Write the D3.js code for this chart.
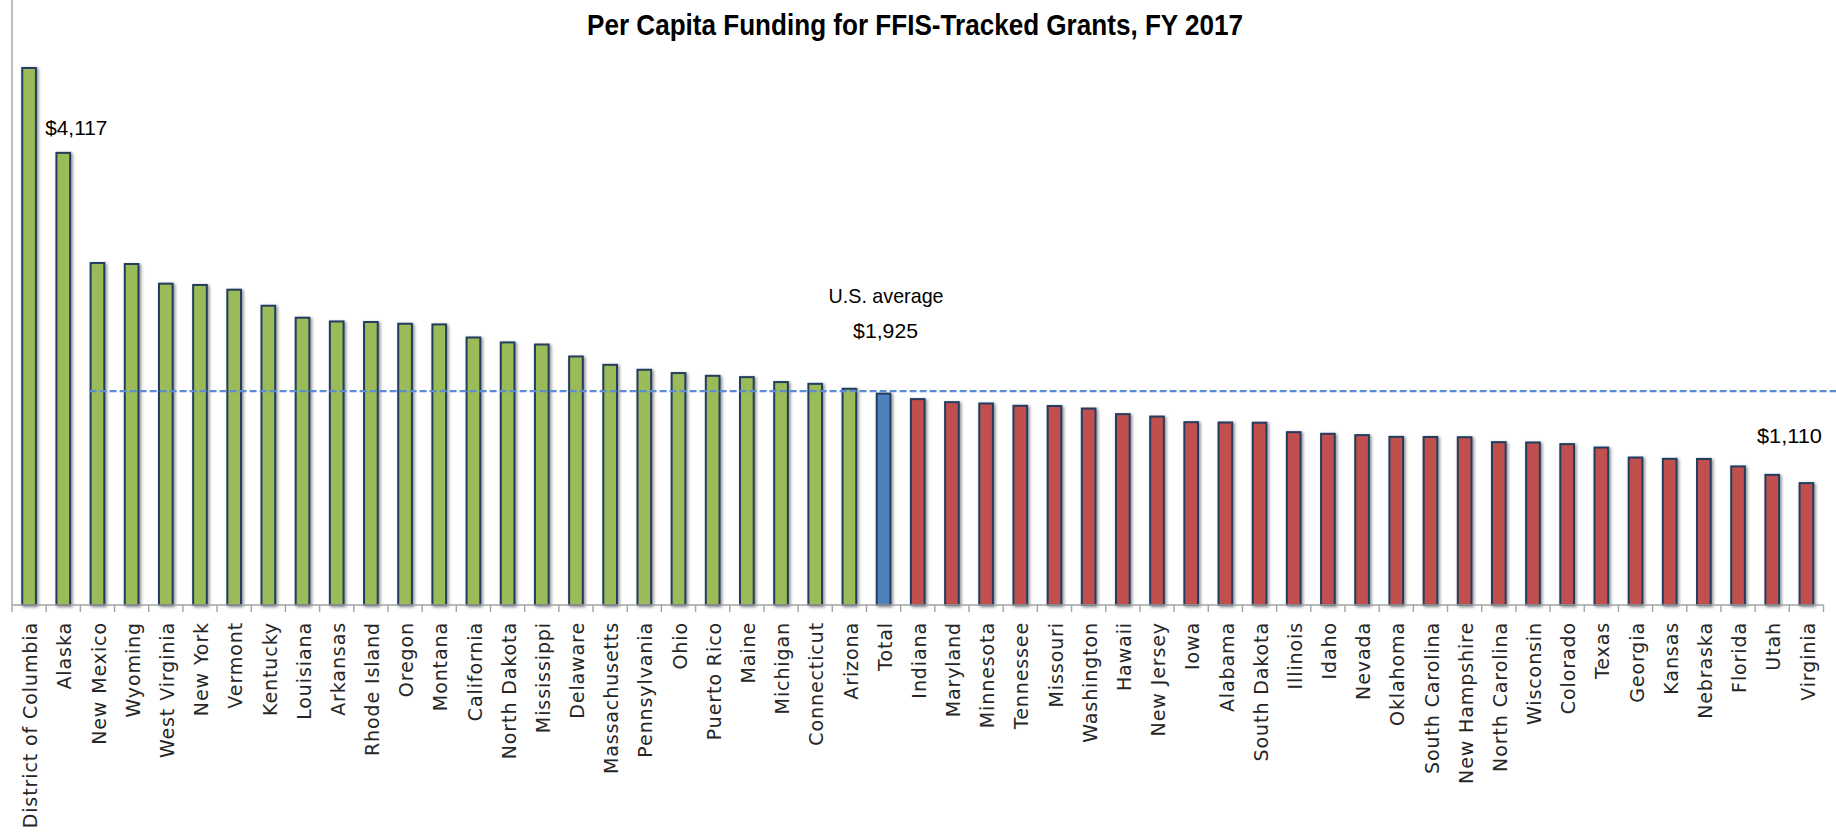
<!DOCTYPE html>
<html>
<head>
<meta charset="utf-8">
<script src="https://cdn.jsdelivr.net/npm/d3@7"></script>
<style>
  html, body { margin: 0; padding: 0; background: #fff; }
  svg { display: block; }
</style>
</head>
<body>
<svg id="chart" width="1836" height="837"></svg>
<script>
// ---------------- data ----------------
const title = "Per Capita Funding for FFIS-Tracked Grants, FY 2017";

const categories = [
  "District of Columbia", "Alaska", "New Mexico", "Wyoming", "West Virginia", "New York",
  "Vermont", "Kentucky", "Louisiana", "Arkansas", "Rhode Island", "Oregon", "Montana",
  "California", "North Dakota", "Mississippi", "Delaware", "Massachusetts", "Pennsylvania",
  "Ohio", "Puerto Rico", "Maine", "Michigan", "Connecticut", "Arizona", "Total",
  "Indiana", "Maryland", "Minnesota", "Tennessee", "Missouri", "Washington", "Hawaii",
  "New Jersey", "Iowa", "Alabama", "South Dakota", "Illinois", "Idaho", "Nevada",
  "Oklahoma", "South Carolina", "New Hampshire", "North Carolina", "Wisconsin", "Colorado",
  "Texas", "Georgia", "Kansas", "Nebraska", "Florida", "Utah", "Virginia"
];

const values = [
  4890, 4117, 3114, 3105, 2926, 2914,
  2871, 2725, 2616, 2582, 2577, 2561, 2555,
  2436, 2391, 2372, 2263, 2187, 2142,
  2112, 2087, 2075, 2030, 2014, 1969, 1925,
  1875, 1847, 1835, 1814, 1812, 1789, 1738,
  1716, 1665, 1662, 1660, 1574, 1559, 1547,
  1531, 1530, 1528, 1483, 1480, 1465,
  1434, 1343, 1331, 1330, 1262, 1185, 1110
];

const usAverage = 1925;
const avgLineStart = "New Mexico";
const yDomain = [0, 5500];

// annotations: [text, anchor category, value]
const annotHigh = ["$4,117", "Alaska", 4117];
const annotLow = ["$1,110", "Virginia", 1110];
const annotAvg = ["U.S. average", "$1,925"];

// colours
const colAbove = "#9BBB59";
const colTotal = "#4F81BD";
const colBelow = "#C0504D";

// ---------------- layout ----------------
const W = 1836, H = 837;
const left = 12, right = 1823.5, baseY = 605, topY = 1;

const svg = d3.select("#chart");

const defs = svg.append("defs");
const f = defs.append("filter").attr("id", "shadow")
  .attr("x", "-50%").attr("y", "-10%").attr("width", "200%").attr("height", "120%");
f.append("feDropShadow").attr("dx", 1.6).attr("dy", 1.2)
  .attr("stdDeviation", 1.5).attr("flood-color", "#000").attr("flood-opacity", 0.45);

const x = d3.scaleBand().domain(categories).range([left, right]).padding(0);
const y = d3.scaleLinear().domain(yDomain).range([baseY, topY]);

const bw = x.bandwidth();
const barW = bw * 0.4;

// bars
svg.append("g").selectAll("rect")
  .data(categories.map((c, i) => ({ c, v: values[i] })))
  .join("rect")
  .attr("x", d => x(d.c) + (bw - barW) / 2)
  .attr("y", d => y(d.v))
  .attr("width", barW)
  .attr("height", d => y(0) - y(d.v))
  .attr("fill", d => d.c === "Total" ? colTotal : (d.v > usAverage ? colAbove : colBelow))
  .attr("stroke", "#243D5E")
  .attr("stroke-width", 2)
  .attr("filter", "url(#shadow)");

// axes
const axisCol = "#A3A3A3";
svg.append("line")
  .attr("x1", left).attr("x2", left)
  .attr("y1", y(yDomain[1]) - 1).attr("y2", baseY)
  .attr("stroke", axisCol).attr("stroke-width", 1.4);

const xAxis = svg.append("g").attr("transform", `translate(0,${baseY})`);
xAxis.append("line").attr("x1", left).attr("x2", right).attr("y1", 0).attr("y2", 0)
  .attr("stroke", axisCol).attr("stroke-width", 1.4);
const tickPos = categories.map(c => x(c)).concat([right]);
xAxis.selectAll("line.tick").data(tickPos).join("line")
  .attr("class", "tick")
  .attr("x1", d => d).attr("x2", d => d).attr("y1", 0).attr("y2", 7)
  .attr("stroke", axisCol).attr("stroke-width", 1.4);

xAxis.selectAll("text").data(categories).join("text")
  .attr("transform", c => `translate(${x(c) + bw / 2 + 1.5},17) rotate(-90)`)
  .attr("text-anchor", "end")
  .attr("dy", "0.35em")
  .attr("font-family", "'DejaVu Sans', Verdana, sans-serif")
  .attr("font-size", 19)
  .attr("letter-spacing", "0.9px")
  .attr("fill", "#262626")
  .text(c => c);

// average line
svg.append("line")
  .attr("x1", x(avgLineStart) + (bw - barW) / 2 - 1)
  .attr("x2", W)
  .attr("y1", y(usAverage) - 2.5).attr("y2", y(usAverage) - 2.5)
  .attr("stroke", "#5A8DD2")
  .attr("stroke-width", 2.2)
  .attr("stroke-dasharray", "7,3");

// title
const narrow = "'Liberation Sans Narrow', 'Arial Narrow', 'Liberation Sans', sans-serif";
svg.append("text")
  .attr("x", 587).attr("y", 35)
  .attr("font-family", narrow)
  .attr("font-weight", "bold")
  .attr("font-size", 30)
  .attr("textLength", 656)
  .attr("lengthAdjust", "spacingAndGlyphs")
  .attr("fill", "#000")
  .text(title);

function annot(txt, cx, by, len) {
  svg.append("text")
    .attr("x", cx - len / 2).attr("y", by)
    .attr("font-family", narrow)
    .attr("font-size", 21)
    .attr("textLength", len)
    .attr("lengthAdjust", "spacingAndGlyphs")
    .attr("fill", "#000")
    .text(txt);
}

annot(annotHigh[0], x(annotHigh[1]) + bw / 2 + 13, y(annotHigh[2]) - 18, 62);
annot(annotLow[0], x(annotLow[1]) + bw / 2 - 17, y(annotLow[2]) - 40, 65);
annot(annotAvg[0], x("Total") + bw / 2 + 2.5, y(usAverage) - 91, 115);
annot(annotAvg[1], x("Total") + bw / 2 + 2, y(usAverage) - 56, 65);
</script>
</body>
</html>
